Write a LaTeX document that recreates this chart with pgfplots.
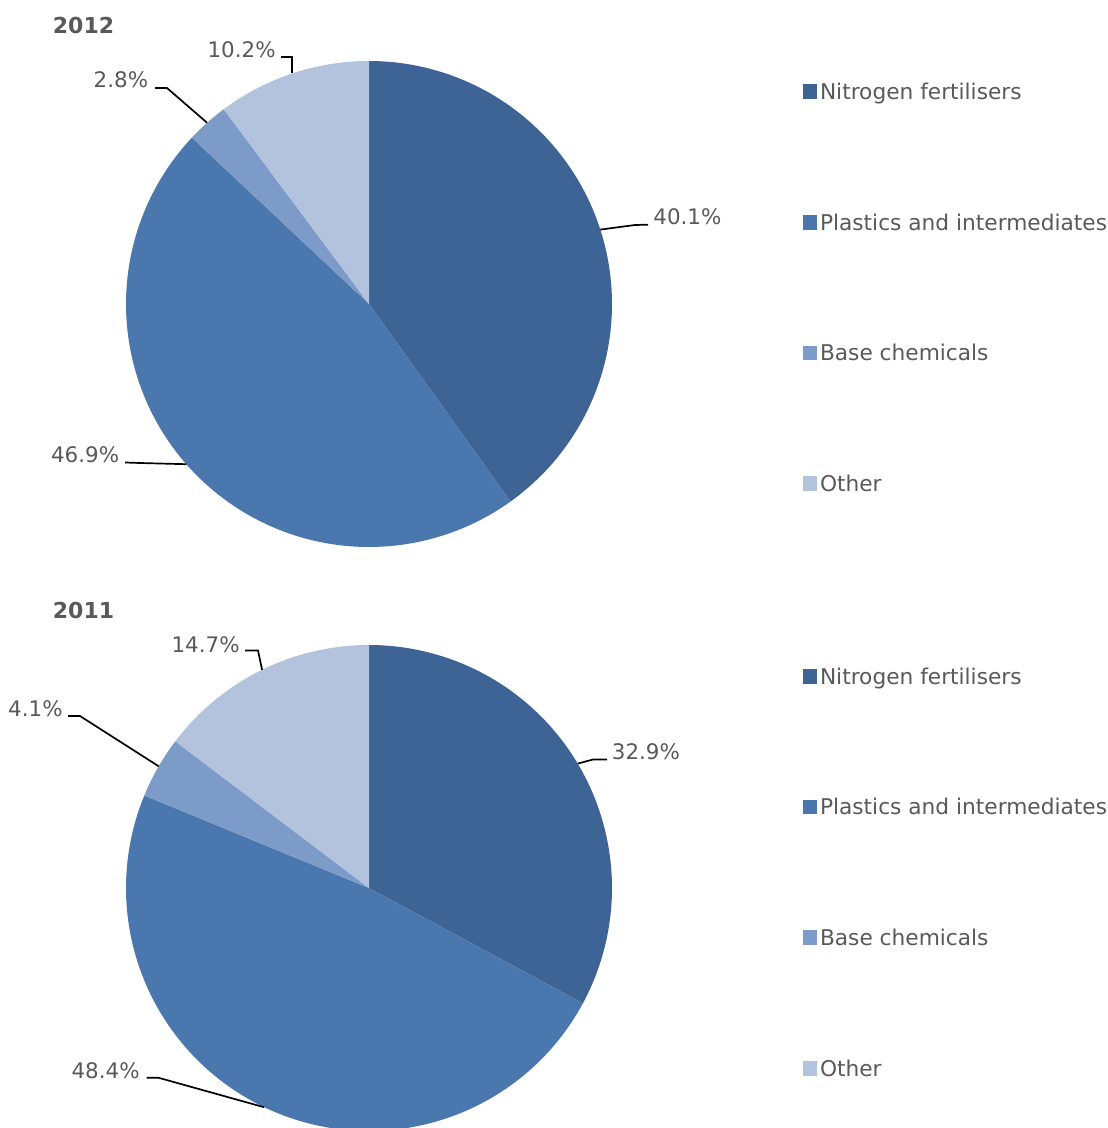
\documentclass[border=0pt]{standalone}
\usepackage{fontspec}
\setmainfont{DejaVu Sans}
\usepackage{pgfplots}
\pgfplotsset{compat=1.18}
\definecolor{cN}{HTML}{3D6495}
\definecolor{cP}{HTML}{4A77AE}
\definecolor{cB}{HTML}{7D9BC8}
\definecolor{cO}{HTML}{B4C3DD}
\definecolor{txt}{HTML}{595959}

% shares (%), in order: Nitrogen fertilisers, Plastics and intermediates, Base chemicals, Other
\newcommand{\setangles}[4]{%
  \pgfmathsetmacro{\tot}{#1+#2+#3+#4}%
  \pgfmathsetmacro{\angA}{90}%
  \pgfmathsetmacro{\angB}{90-3.6*((#1)/\tot*100)}%
  \pgfmathsetmacro{\angC}{90-3.6*((#1+#2)/\tot*100)}%
  \pgfmathsetmacro{\angD}{90-3.6*((#1+#2+#3)/\tot*100)}%
  \pgfmathsetmacro{\angE}{-270}%
}
\newcommand{\piewedges}{%
  \addplot[fill=cN, draw=none, domain=\angB:\angA, samples=120] ({243*cos(x)},{243*sin(x)}) -- (axis cs:0,0) -- cycle;
  \addlegendentry{Nitrogen fertilisers}
  \addplot[fill=cP, draw=none, domain=\angC:\angB, samples=120] ({243*cos(x)},{243*sin(x)}) -- (axis cs:0,0) -- cycle;
  \addlegendentry{Plastics and intermediates}
  \addplot[fill=cB, draw=none, domain=\angD:\angC, samples=20] ({243*cos(x)},{243*sin(x)}) -- (axis cs:0,0) -- cycle;
  \addlegendentry{Base chemicals}
  \addplot[fill=cO, draw=none, domain=\angE:\angD, samples=60] ({243*cos(x)},{243*sin(x)}) -- (axis cs:0,0) -- cycle;
  \addlegendentry{Other}
}
\pgfplotsset{
  piestyle/.style={
    hide axis, x=0.5pt, y=0.5pt, enlargelimits=false, clip=true,
    xmin=-369, xmax=738,
    legend cell align=left,
    legend image code/.code={\fill[##1] (0pt,-2.5pt) rectangle (7.2pt,4.75pt);},
    legend style={draw=none, fill=none, inner sep=0pt, outer sep=0pt,
      row sep=54.85pt, column sep=1.3pt,
      font=\fontsize{10.85pt}{12.8pt}\selectfont,
      nodes={inner sep=0pt, text height=8pt, text depth=2.5pt, text=txt}},
  },
}
\tikzset{
  lbl/.style={text=txt, inner sep=0pt, font=\fontsize{10.7pt}{12.8pt}\selectfont},
  ttl/.style={text=txt, inner sep=0pt, font=\fontsize{11pt}{13.2pt}\selectfont\bfseries},
  lead/.style={draw=black, line width=0.85pt},
}

\begin{document}
\begin{tikzpicture}
\useasboundingbox (0,0) rectangle (553.5pt,-564pt);

% ---------------- 2012 ----------------
\setangles{40.1}{46.9}{2.8}{10.2}
\begin{axis}[piestyle, at={(0pt,0pt)}, anchor=north west,
  ymin=-280, ymax=304,
  legend style={at={(axis cs:434,220.7)}, anchor=north west}]
\piewedges
\node[ttl, anchor=base west] at (axis cs:-316.5,270.7) {2012};
\node[lbl, anchor=base east] at (axis cs:-93,246) {10.2\%};
\draw[lead] (axis cs:-88,247) -- (axis cs:-77,247) -- (axis cs:-77,230.5);
\node[lbl, anchor=base east] at (axis cs:-220.5,216) {2.8\%};
\draw[lead] (axis cs:-214,216) -- (axis cs:-202,216) -- (axis cs:-162,181.3);
\node[lbl, anchor=base west] at (axis cs:284,79) {40.1\%};
\draw[lead] (axis cs:231.3,74.4) -- (axis cs:266,79) -- (axis cs:279,79.3);
\node[lbl, anchor=base east] at (axis cs:-249.5,-158.5) {46.9\%};
\draw[lead] (axis cs:-244,-158.5) -- (axis cs:-229,-159) -- (axis cs:-182.7,-160.2);
\end{axis}

% ---------------- 2011 ----------------
\setangles{32.9}{48.4}{4.1}{14.7}
\begin{axis}[piestyle, at={(0pt,-292pt)}, anchor=north west,
  ymin=-240, ymax=304,
  legend style={at={(axis cs:434,220)}, anchor=north west}]
\piewedges
\node[ttl, anchor=base west] at (axis cs:-316.5,269.7) {2011};
\node[lbl, anchor=base east] at (axis cs:-129,236) {14.7\%};
\draw[lead] (axis cs:-124,237.5) -- (axis cs:-111,237.5) -- (axis cs:-106.9,218.2);
\node[lbl, anchor=base east] at (axis cs:-306,171.5) {4.1\%};
\draw[lead] (axis cs:-301,172) -- (axis cs:-289,172) -- (axis cs:-210.3,121.7);
\node[lbl, anchor=base west] at (axis cs:242.5,128.7) {32.9\%};
\draw[lead] (axis cs:208.8,124.4) -- (axis cs:224,128.5) -- (axis cs:238,128.5);
\node[lbl, anchor=base east] at (axis cs:-229,-190) {48.4\%};
\draw[lead] (axis cs:-222.3,-189.7) -- (axis cs:-210.7,-189.7) -- (axis cs:-104.9,-219.2);
\end{axis}
\end{tikzpicture}
\end{document}
